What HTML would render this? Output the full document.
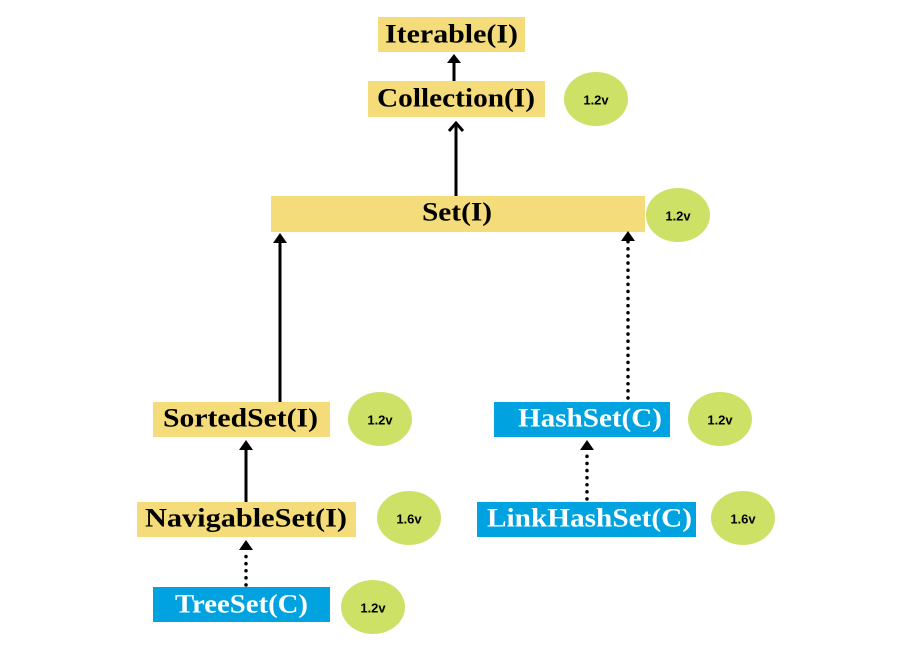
<!DOCTYPE html>
<html><head><meta charset="utf-8"><style>
html,body{margin:0;padding:0;background:#fff;}
svg{display:block}
.t{font-family:"Liberation Serif","DejaVu Serif",serif;font-weight:bold;font-size:26px;text-anchor:middle;dominant-baseline:central}
.v{font-family:"Liberation Sans",sans-serif;font-weight:bold;font-size:13px;text-anchor:middle;dominant-baseline:central}
</style></head><body>
<svg width="900" height="650" viewBox="0 0 900 650" xmlns="http://www.w3.org/2000/svg">
<rect width="900" height="650" fill="#fff"/>
<g fill="#f4dc7a">
<rect x="378" y="17" width="147" height="35"/>
<rect x="368" y="81" width="177" height="36"/>
<rect x="271" y="196" width="374" height="36"/>
<rect x="153" y="402" width="177" height="35"/>
<rect x="137" y="502" width="219" height="35"/>
</g>
<g fill="#00a3e0">
<rect x="494" y="402" width="176" height="35"/>
<rect x="477" y="502" width="219" height="35"/>
<rect x="153" y="587" width="177" height="35"/>
</g>
<g fill="#cde166">
<ellipse cx="596" cy="99" rx="32" ry="27"/>
<ellipse cx="678" cy="215" rx="32" ry="27"/>
<ellipse cx="380" cy="419" rx="32" ry="27"/>
<ellipse cx="409" cy="518" rx="32" ry="27"/>
<ellipse cx="373" cy="607" rx="32" ry="27"/>
<ellipse cx="720" cy="419" rx="32" ry="27"/>
<ellipse cx="743" cy="518" rx="32" ry="27"/>
</g>
<g stroke="#000" stroke-width="3" fill="none">
<line x1="454" y1="81" x2="454" y2="62"/>
<line x1="456" y1="196" x2="456" y2="124"/>
<polyline points="449,131 456,123 463,131"/>
<line x1="280" y1="402" x2="280" y2="242"/>
<line x1="246" y1="502" x2="246" y2="450"/>
</g>
<g stroke="#000" stroke-width="3.5" stroke-dasharray="0.1 7" stroke-linecap="round" fill="none">
<line x1="628" y1="398" x2="628" y2="241"/>
<line x1="587" y1="499" x2="587" y2="450"/>
<line x1="246" y1="585" x2="246" y2="551"/>
</g>
<g fill="#000">
<polygon points="447,63 454,54 461,63"/>
<polygon points="273,243 280,233 287,243"/>
<polygon points="239,450 246,440 253,450"/>
<polygon points="621,241 628,231 635,241"/>
<polygon points="580,450 587,440 594,450"/>
<polygon points="239,550 246,540 253,550"/>
</g>
<text class="t" x="451.5" y="34" textLength="133" lengthAdjust="spacingAndGlyphs">Iterable(I)</text>
<text class="t" x="456" y="98" textLength="158" lengthAdjust="spacingAndGlyphs">Collection(I)</text>
<text class="t" x="457" y="212" textLength="70" lengthAdjust="spacingAndGlyphs">Set(I)</text>
<text class="t" x="240.5" y="418" textLength="155" lengthAdjust="spacingAndGlyphs">SortedSet(I)</text>
<text class="t" x="246" y="518" textLength="202" lengthAdjust="spacingAndGlyphs">NavigableSet(I)</text>
<text class="t" x="241.5" y="604" fill="#fff" textLength="133" lengthAdjust="spacingAndGlyphs">TreeSet(C)</text>
<text class="t" x="590" y="418" fill="#fff" textLength="144" lengthAdjust="spacingAndGlyphs">HashSet(C)</text>
<text class="t" x="589.5" y="518" fill="#fff" textLength="205" lengthAdjust="spacingAndGlyphs">LinkHashSet(C)</text>
<text class="v" x="596" y="100">1.2v</text>
<text class="v" x="678" y="216">1.2v</text>
<text class="v" x="380" y="420">1.2v</text>
<text class="v" x="409" y="519">1.6v</text>
<text class="v" x="373" y="608">1.2v</text>
<text class="v" x="720" y="420">1.2v</text>
<text class="v" x="743" y="519">1.6v</text>
</svg>
</body></html>
